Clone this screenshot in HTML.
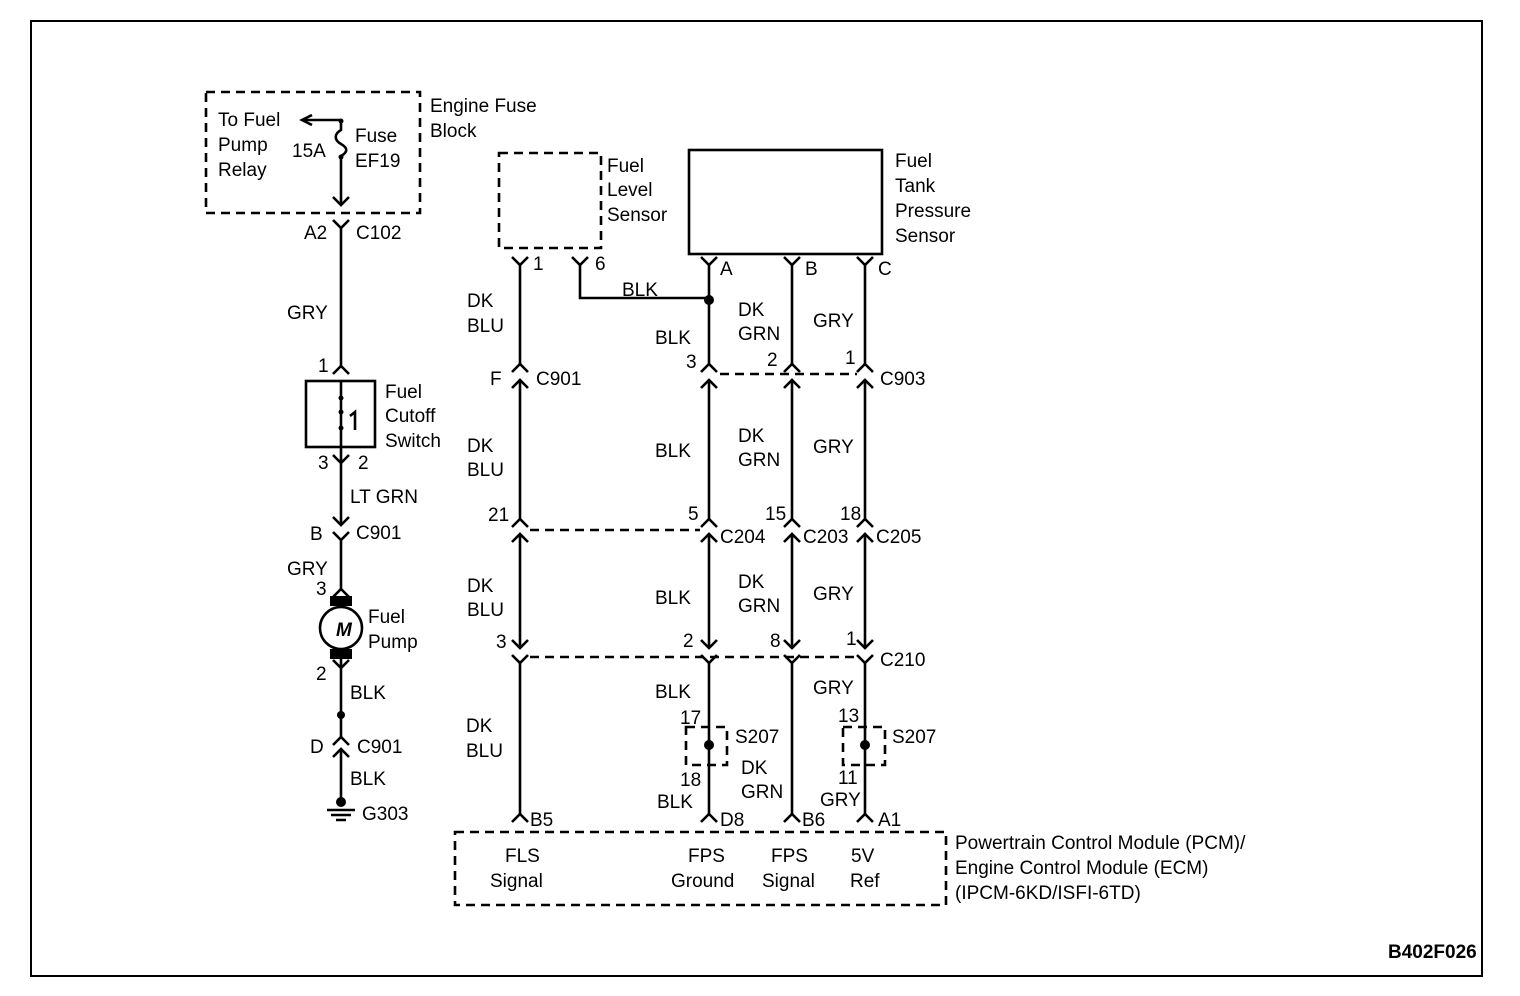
<!DOCTYPE html>
<html><head><meta charset="utf-8"><style>
html,body{margin:0;padding:0;background:#fff}
svg{display:block}
text{font-family:"Liberation Sans",Arial,sans-serif;font-size:19px;fill:#000}
</style></head><body>
<svg width="1520" height="996" viewBox="0 0 1520 996" xmlns="http://www.w3.org/2000/svg">
<rect x="31" y="21" width="1451" height="955" fill="none" stroke="#000" stroke-width="2"/>
<g fill="none" stroke="#000" stroke-width="2.6">
<!-- dashed boxes -->
<rect x="206" y="92" width="214" height="121" stroke-dasharray="9,6"/>
<rect x="499" y="153" width="102" height="95" stroke-dasharray="9,6"/>
<rect x="689" y="150" width="193" height="104"/>
<rect x="306" y="381" width="69" height="66"/>
<rect x="455" y="832" width="491" height="73" stroke-dasharray="9,6"/>
<rect x="686" y="727" width="41" height="38" stroke-dasharray="9,6"/>
<rect x="843" y="727" width="42" height="38" stroke-dasharray="9,6"/>
<!-- left column -->
<path d="M341 120 H303"/>
<path d="M312 115 L302 120 L312 125"/>
<path d="M341 120 V130 C334 134 334 140 341 144 C348 148 348 152 341 156 V205"/>
<path d="M333 197 L341 205 L349 197"/>
<path d="M333 220 L341 228 L349 220"/>
<path d="M341 228 V366"/>
<path d="M333 374 L341 366 L349 374"/>
<path d="M341 381 V447"/>
<path d="M355 430 V412 L350 416"/>
<path d="M333 455 L341 463 L349 455 M341 447 V525"/>
<path d="M333 517 L341 525 L349 517"/>
<path d="M333 532 L341 540 L349 532 M341 540 V589"/>
<path d="M333 597 L341 589 L349 597"/>
<circle cx="341" cy="628" r="21"/>
<path d="M333 660 L341 668 L349 660 M341 658 V737"/>
<path d="M333 745 L341 737 L349 745"/>
<path d="M333 757 L341 749 L349 757 M341 749 V802"/>
<path d="M327 810 H355 M331 815 H351 M336 820 H346"/>
<!-- right wires -->
<path d="M512 257 L520 265 L528 257 M572 257 L580 265 L588 257 M701 257 L709 265 L717 257 M784 257 L792 265 L800 257 M857 257 L865 265 L873 257"/>
<path d="M520 265 V364 M580 265 V298 H709 M709 265 V364 M792 265 V364 M865 265 V364"/>
<path d="M512 372 L520 364 L528 372 M701 372 L709 364 L717 372 M784 372 L792 364 L800 372 M857 372 L865 364 L873 372"/>
<path d="M512 388 L520 380 L528 388 M701 388 L709 380 L717 388 M784 388 L792 380 L800 388 M857 388 L865 380 L873 388"/>
<path d="M520 380 V519 M709 380 V519 M792 380 V519 M865 380 V519"/>
<path d="M512 527 L520 519 L528 527 M701 527 L709 519 L717 527 M784 527 L792 519 L800 527 M857 527 L865 519 L873 527"/>
<path d="M512 542 L520 534 L528 542 M701 542 L709 534 L717 542 M784 542 L792 534 L800 542 M857 542 L865 534 L873 542"/>
<path d="M520 534 V648 M709 534 V648 M792 534 V648 M865 534 V648"/>
<path d="M512 640 L520 648 L528 640 M701 640 L709 648 L717 640 M784 640 L792 648 L800 640 M857 640 L865 648 L873 640"/>
<path d="M512 655 L520 663 L528 655 M701 655 L709 663 L717 655 M784 655 L792 663 L800 655 M857 655 L865 663 L873 655"/>
<path d="M520 663 V814 M709 663 V814 M792 663 V814 M865 663 V814"/>
<path d="M512 822 L520 814 L528 822 M701 822 L709 814 L717 822 M784 822 L792 814 L800 822 M857 822 L865 814 L873 822"/>
<path d="M720 374 H857 M530 530 H700 M530 657 H857" stroke-dasharray="9,6"/>
</g>
<g fill="#000">
<rect x="330" y="596" width="22" height="10"/>
<rect x="330" y="649" width="22" height="10"/>
<circle cx="341" cy="398" r="2.5"/><circle cx="341" cy="412" r="2.5"/><circle cx="341" cy="428" r="2.5"/>
<circle cx="341" cy="715" r="4"/><circle cx="341" cy="802" r="5"/>
<circle cx="341" cy="157" r="2.5"/><circle cx="341" cy="121" r="2.5"/>
<circle cx="709" cy="300" r="5"/>
<circle cx="709" cy="745" r="5"/><circle cx="865" cy="745" r="5"/>
</g>
<text x="336" y="636" font-weight="bold" font-style="italic" font-size="17">M</text>
<g>
<text x="218" y="126">To Fuel</text><text x="218" y="151">Pump</text><text x="218" y="176">Relay</text>
<text x="292" y="157">15A</text><text x="355" y="142">Fuse</text><text x="355" y="167">EF19</text>
<text x="430" y="112">Engine Fuse</text><text x="430" y="137">Block</text>
<text x="304" y="239">A2</text><text x="356" y="239">C102</text>
<text x="287" y="319">GRY</text><text x="318" y="372">1</text>
<text x="385" y="398">Fuel</text><text x="385" y="422">Cutoff</text><text x="385" y="447">Switch</text>
<text x="318" y="469">3</text><text x="358" y="469">2</text>
<text x="350" y="503">LT GRN</text>
<text x="310" y="540">B</text><text x="356" y="539">C901</text>
<text x="287" y="575">GRY</text><text x="316" y="595">3</text>
<text x="368" y="623">Fuel</text><text x="368" y="648">Pump</text>
<text x="316" y="680">2</text><text x="350" y="699">BLK</text>
<text x="310" y="753">D</text><text x="357" y="753">C901</text>
<text x="350" y="785">BLK</text><text x="362" y="820">G303</text>

<text x="607" y="172">Fuel</text><text x="607" y="196">Level</text><text x="607" y="221">Sensor</text>
<text x="895" y="167">Fuel</text><text x="895" y="192">Tank</text><text x="895" y="217">Pressure</text><text x="895" y="242">Sensor</text>
<text x="533" y="270">1</text><text x="595" y="270">6</text><text x="720" y="275">A</text><text x="805" y="275">B</text><text x="878" y="275">C</text>
<text x="622" y="296">BLK</text>
<text x="467" y="307">DK</text><text x="467" y="332">BLU</text>
<text x="655" y="344">BLK</text>
<text x="738" y="316">DK</text><text x="738" y="340">GRN</text>
<text x="813" y="327">GRY</text>
<text x="686" y="368">3</text><text x="767" y="366">2</text><text x="845" y="364">1</text>
<text x="490" y="385">F</text><text x="536" y="385">C901</text><text x="880" y="385">C903</text>
<text x="467" y="452">DK</text><text x="467" y="476">BLU</text>
<text x="655" y="457">BLK</text>
<text x="738" y="442">DK</text><text x="738" y="466">GRN</text>
<text x="813" y="453">GRY</text>
<text x="488" y="521">21</text><text x="688" y="520">5</text><text x="765" y="520">15</text><text x="840" y="520">18</text>
<text x="720" y="543">C204</text><text x="803" y="543">C203</text><text x="876" y="543">C205</text>
<text x="467" y="592">DK</text><text x="467" y="616">BLU</text>
<text x="655" y="604">BLK</text>
<text x="738" y="588">DK</text><text x="738" y="612">GRN</text>
<text x="813" y="600">GRY</text>
<text x="496" y="648">3</text><text x="683" y="647">2</text><text x="770" y="647">8</text><text x="846" y="645">1</text>
<text x="880" y="666">C210</text>
<text x="655" y="698">BLK</text><text x="813" y="694">GRY</text>
<text x="680" y="724">17</text><text x="735" y="743">S207</text>
<text x="838" y="722">13</text><text x="892" y="743">S207</text>
<text x="466" y="732">DK</text><text x="466" y="757">BLU</text>
<text x="680" y="786">18</text><text x="741" y="774">DK</text>
<text x="657" y="808">BLK</text><text x="741" y="798">GRN</text>
<text x="838" y="784">11</text><text x="820" y="806">GRY</text>
<text x="530" y="826">B5</text><text x="720" y="826">D8</text><text x="802" y="826">B6</text><text x="878" y="826">A1</text>
<text x="505" y="862">FLS</text><text x="490" y="887">Signal</text>
<text x="688" y="862">FPS</text><text x="671" y="887">Ground</text>
<text x="771" y="862">FPS</text><text x="762" y="887">Signal</text>
<text x="851" y="862">5V</text><text x="850" y="887">Ref</text>
<text x="955" y="849">Powertrain Control Module (PCM)/</text>
<text x="955" y="874">Engine Control Module (ECM)</text>
<text x="955" y="899">(IPCM-6KD/ISFI-6TD)</text>
<text x="1388" y="958" font-size="12" font-weight="bold">B402F026</text>
</g>
</svg>
</body></html>
